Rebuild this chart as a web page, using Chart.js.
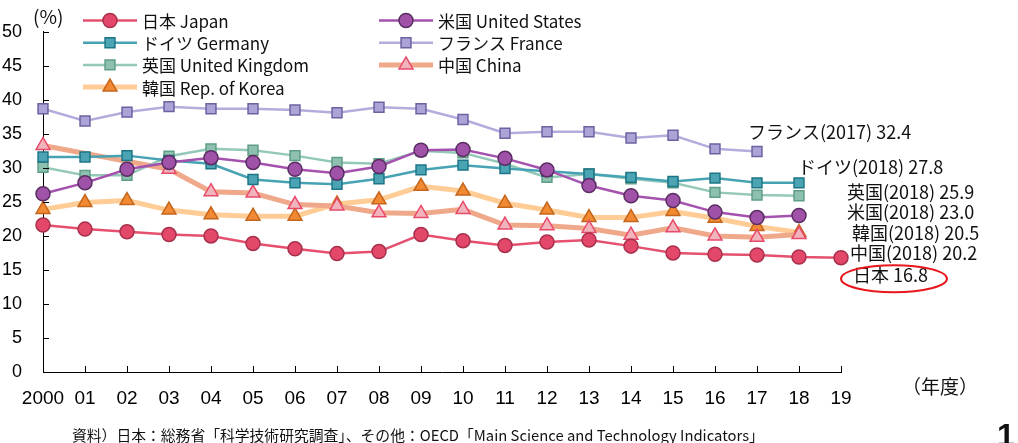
<!DOCTYPE html>
<html>
<head>
<meta charset="utf-8">
<script src="https://cdn.jsdelivr.net/npm/chart.js@4/dist/chart.umd.min.js"></script>
<style>
  html, body { margin: 0; padding: 0; background: #fff; }
  #wrap { width: 1018px; height: 443px; position: relative; }
</style>
</head>
<body>
<div id="wrap"><canvas id="rdChart"></canvas></div>
<script>
// categories (fiscal year)
const years = ['2000', '01', '02', '03', '04', '05', '06', '07', '08', '09',
               '10', '11', '12', '13', '14', '15', '16', '17', '18', '19'];

// series values (%)
const japan   = [21.6, 21.0, 20.6, 20.2, 20.0, 18.9, 18.1, 17.4, 17.7, 20.2, 19.3, 18.6, 19.1, 19.4, 18.5, 17.5, 17.3, 17.2, 16.9, 16.8];
const usa     = [26.2, 27.8, 29.8, 30.8, 31.5, 30.8, 29.8, 29.2, 30.2, 32.6, 32.7, 31.4, 29.7, 27.4, 25.9, 25.2, 23.5, 22.7, 23.0, null];
const germany = [31.6, 31.6, 31.8, 31.1, 30.6, 28.3, 27.8, 27.6, 28.4, 29.7, 30.4, 29.9, 29.5, 29.1, 28.6, 28.0, 28.5, 27.8, 27.8, null];
const france  = [38.7, 36.9, 38.2, 39.0, 38.7, 38.7, 38.5, 38.1, 38.9, 38.7, 37.1, 35.1, 35.3, 35.3, 34.4, 34.8, 32.8, 32.4, null, null];
const uk      = [30.1, 28.9, 28.9, 31.7, 32.8, 32.6, 31.8, 30.8, 30.6, 32.5, 32.2, 30.6, 28.6, 29.1, 28.4, 27.8, 26.4, 26.0, 25.9, null];
const china   = [33.3, null, null, 29.8, 26.5, 26.3, 24.6, 24.4, 23.4, 23.3, 23.9, 21.6, 21.5, 21.1, 20.1, 21.2, 20.0, 19.8, 20.2, null];
const korea   = [23.9, 24.9, 25.2, 23.8, 23.1, 22.9, 22.9, 24.7, 25.3, 27.3, 26.6, 24.8, 23.8, 22.7, 22.7, 23.6, 22.6, 21.4, 20.5, null];

// y ticks
const yTicks = [0, 5, 10, 15, 20, 25, 30, 35, 40, 45, 50];

// end-of-line labels
const endLabels = ['フランス(2017) 32.4', 'ドイツ(2018) 27.8', '英国(2018) 25.9', '米国(2018) 23.0',
                   '韓国(2018) 20.5', '中国(2018) 20.2', '日本 16.8'];

const JP = '"Noto Sans CJK JP", "Noto Sans", sans-serif';

function series(label, data, line, fill, border, style, lw, radius) {
    return {
        label: label,
        data: data,
        borderColor: line,
        borderWidth: lw,
        backgroundColor: fill,
        pointBackgroundColor: fill,
        pointBorderColor: border,
        pointBorderWidth: 1.5,
        pointStyle: style,
        pointRadius: radius,
        pointHoverRadius: radius,
        tension: 0,
        spanGaps: true,
        clip: false
    };
}

// order: Japan, US / Germany, France / UK, China / Korea (legend rows)
const datasets = [
    series('日本 Japan', japan, '#e5506e', '#e3486a', '#a8304c', 'circle', 2.5, 7),
    series('米国 United States', usa, '#a452ae', '#a052a8', '#5a2e62', 'circle', 2.5, 7),
    series('ドイツ Germany', germany, '#47a3b3', '#4aa4b4', '#1d7686', 'rect', 2.5, 7),
    series('フランス France', france, '#b4acdc', '#aca4d6', '#6c62a2', 'rect', 2.5, 7),
    series('英国 United Kingdom', uk, '#94c8b8', '#8ec0b0', '#5e9e86', 'rect', 2.5, 7),
    series('中国 China', china, '#f0a88a', '#f2b4bc', '#e84a6a', 'triangle', 5, 8),
    series('韓国 Rep. of Korea', korea, '#ffcc96', '#f28a34', '#c4661c', 'triangle', 5, 8)
];
// draw order: thick lines behind
datasets[5].order = 2; datasets[6].order = 2;

const decorPlugin = {
    id: 'decor',
    afterDraw: function (chart) {
        const ctx = chart.ctx;
        const xs = chart.scales.x, ys = chart.scales.y;
        const left = chart.chartArea.left, bottom = chart.chartArea.bottom;
        ctx.save();

        // inward tick marks
        ctx.strokeStyle = '#000';
        ctx.lineWidth = 1;
        ctx.beginPath();
        yTicks.forEach(function (v) {
            const y = Math.round(ys.getPixelForValue(v)) + 0.5;
            ctx.moveTo(left, y); ctx.lineTo(left + 6, y);
        });
        years.forEach(function (lab, i) {
            const x = Math.round(xs.getPixelForValue(i)) + 0.5;
            ctx.moveTo(x, bottom); ctx.lineTo(x, bottom - 6);
        });
        ctx.stroke();

        // legend (2 columns)
        chart.data.datasets.forEach(function (ds, i) {
            const x0 = i % 2 === 0 ? 83 : 379;
            const y = 20.5 + Math.floor(i / 2) * 22.2;
            ctx.strokeStyle = ds.borderColor;
            ctx.lineWidth = ds.borderWidth;
            ctx.beginPath();
            ctx.moveTo(x0, y); ctx.lineTo(x0 + 54, y);
            ctx.stroke();
            ctx.fillStyle = ds.pointBackgroundColor;
            ctx.strokeStyle = ds.pointBorderColor;
            ctx.lineWidth = ds.pointBorderWidth;
            Chart.helpers.drawPoint(ctx, { pointStyle: ds.pointStyle, radius: ds.pointRadius, rotation: 0, borderWidth: ds.pointBorderWidth }, x0 + 27, y);
            ctx.fillStyle = '#111';
            ctx.font = '17px ' + JP;
            ctx.textBaseline = 'middle';
            ctx.textAlign = 'left';
            ctx.fillText(ds.label, x0 + 59, y + 1);
        });

        // end labels
        const pos = [[748, 132], [798, 167], [847, 192], [847, 212], [852, 233], [850, 253], [853, 275]];
        ctx.fillStyle = '#111';
        ctx.font = '18px ' + JP;
        ctx.textBaseline = 'middle';
        endLabels.forEach(function (t, i) {
            ctx.fillText(t, pos[i][0], pos[i][1]);
        });

        // red ellipse round the Japan figure
        const ex = xs.getPixelForValue(19) + 53;
        const ey = ys.getPixelForValue(16.8) + 21;
        ctx.strokeStyle = '#e8161c';
        ctx.lineWidth = 2;
        ctx.beginPath();
        ctx.ellipse(ex, ey, 53, 13.5, 0, 0, Math.PI * 2);
        ctx.stroke();

        // unit labels
        ctx.font = '19px ' + JP;
        ctx.fillText('(%)', 33, 17);
        ctx.font = '19px ' + JP;
        ctx.fillText('（年度）', 902, 387);

        // source note
        ctx.font = '14.8px ' + JP;
        ctx.fillText('資料）日本：総務省「科学技術研究調査」、その他：OECD「Main Science and Technology Indicators」', 72, 435);

        // page number
        ctx.font = 'bold 32px "Liberation Sans", Arial, sans-serif';
        ctx.textBaseline = 'alphabetic';
        ctx.fillText('1', 997, 446);

        ctx.restore();
    }
};

new Chart(document.getElementById('rdChart').getContext('2d'), {
    type: 'line',
    data: { labels: years, datasets: datasets },
    options: {
        responsive: true,
        maintainAspectRatio: false,
        animation: false,
        events: [],
        layout: { padding: { top: 29, right: 177, left: 0, bottom: 0 } },
        scales: {
            x: {
                type: 'category',
                offset: false,
                grid: { display: false, drawTicks: false },
                border: { display: true, color: '#000', width: 1 },
                ticks: {
                    autoSkip: false,
                    maxRotation: 0,
                    padding: 15,
                    color: '#000',
                    font: { family: '"Liberation Sans Narrow", "Liberation Sans", Arial, sans-serif', size: 19 }
                },
                afterFit: function (scale) { scale.height = 71; }
            },
            y: {
                min: 0,
                max: 50,
                grid: { display: false, drawTicks: false },
                border: { display: true, color: '#000', width: 1 },
                ticks: {
                    stepSize: 5,
                    padding: 21,
                    color: '#000',
                    font: { family: '"Liberation Sans", Arial, sans-serif', size: 18 }
                },
                afterFit: function (scale) { scale.width = 43; }
            }
        },
        plugins: {
            legend: { display: false },
            tooltip: { enabled: false }
        }
    },
    plugins: [decorPlugin]
});
</script>
</body>
</html>
